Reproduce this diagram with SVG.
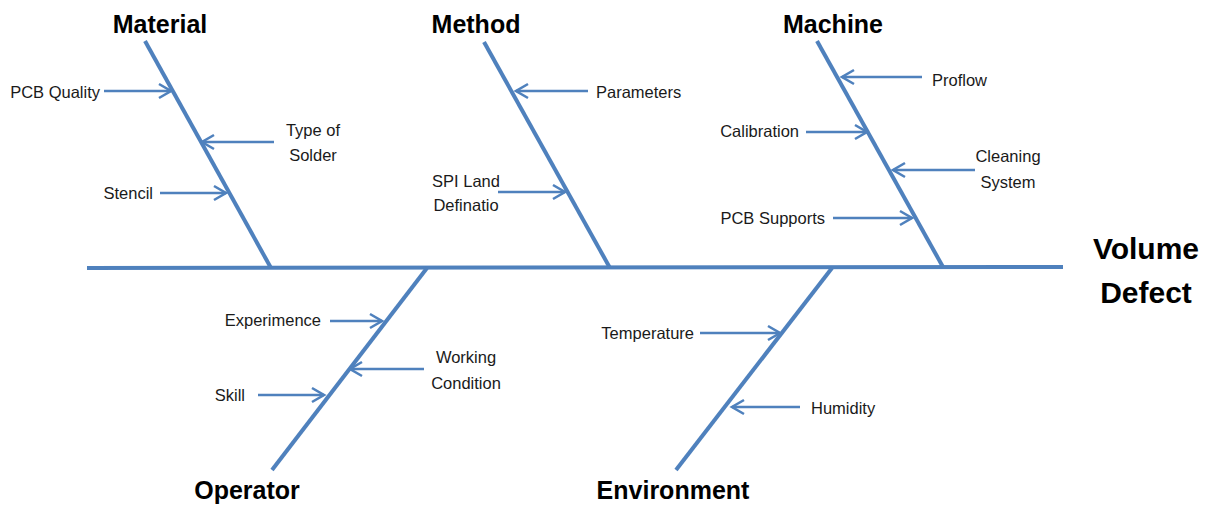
<svg xmlns="http://www.w3.org/2000/svg" width="1216" height="507" viewBox="0 0 1216 507">
<style>
.bone{stroke:#4F81BD;stroke-width:4;fill:none;stroke-linecap:butt}
.arr{stroke:#4F81BD;stroke-width:2.6;fill:none;marker-end:url(#ah)}
.lbl{font-family:"Liberation Sans",Arial,sans-serif;font-size:16.5px;fill:#1a1a1a;dominant-baseline:central}
.ttl{font-family:"Liberation Sans",Arial,sans-serif;font-size:25px;font-weight:bold;fill:#000;text-anchor:middle;dominant-baseline:central}
.big{font-family:"Liberation Sans",Arial,sans-serif;font-size:30px;font-weight:bold;fill:#000;text-anchor:middle;dominant-baseline:central}
</style>
<defs>
<marker id="ah" markerUnits="userSpaceOnUse" markerWidth="16" markerHeight="18" refX="13" refY="8" orient="auto" viewBox="0 0 16 16">
<path d="M1,1 L13,8 L1,15" fill="none" stroke="#4F81BD" stroke-width="2.6"/>
</marker>
</defs>
<g id="connectors">
<line class="bone" x1="87" y1="268" x2="1063" y2="267"/>
<line class="bone" x1="145" y1="41" x2="271" y2="268"/>
<line class="bone" x1="484" y1="42" x2="610" y2="268"/>
<line class="bone" x1="817" y1="41" x2="943" y2="267"/>
<line class="bone" x1="427" y1="268" x2="272" y2="470"/>
<line class="bone" x1="832" y1="268" x2="676" y2="470"/>
<line class="arr" x1="104" y1="91" x2="171" y2="91"/>
<line class="arr" x1="274" y1="142" x2="202" y2="142"/>
<line class="arr" x1="160" y1="193" x2="226" y2="193"/>
<line class="arr" x1="588" y1="91" x2="516" y2="91"/>
<line class="arr" x1="498" y1="192" x2="565" y2="192"/>
<line class="arr" x1="922" y1="77" x2="842" y2="77"/>
<line class="arr" x1="806" y1="132" x2="867" y2="132"/>
<line class="arr" x1="975" y1="170" x2="893" y2="170"/>
<line class="arr" x1="833" y1="218" x2="912" y2="218"/>
<line class="arr" x1="330" y1="321" x2="382" y2="321"/>
<line class="arr" x1="424" y1="369" x2="350" y2="369"/>
<line class="arr" x1="258" y1="395" x2="324" y2="395"/>
<line class="arr" x1="700" y1="333" x2="780" y2="333"/>
<line class="arr" x1="800" y1="407" x2="732" y2="407"/>
</g>
<g id="material">
<text class="ttl" x="160" y="24">Material</text>
<text class="lbl" x="100" y="92" text-anchor="end">PCB Quality</text>
<text class="lbl" x="313" y="130" text-anchor="middle">Type of</text>
<text class="lbl" x="313" y="155" text-anchor="middle">Solder</text>
<text class="lbl" x="153" y="193" text-anchor="end">Stencil</text>
</g>
<g id="method">
<text class="ttl" x="476" y="24">Method</text>
<text class="lbl" x="596" y="92">Parameters</text>
<text class="lbl" x="466" y="181" text-anchor="middle">SPI Land</text>
<text class="lbl" x="466" y="205" text-anchor="middle">Definatio</text>
</g>
<g id="machine">
<text class="ttl" x="833" y="24">Machine</text>
<text class="lbl" x="932" y="80">Proflow</text>
<text class="lbl" x="799" y="131" text-anchor="end">Calibration</text>
<text class="lbl" x="1008" y="156" text-anchor="middle">Cleaning</text>
<text class="lbl" x="1008" y="182" text-anchor="middle">System</text>
<text class="lbl" x="825" y="218" text-anchor="end">PCB Supports</text>
</g>
<g id="effect">
<text class="big" x="1146" y="248">Volume</text>
<text class="big" x="1146" y="292">Defect</text>
</g>
<g id="operator">
<text class="ttl" x="247" y="490">Operator</text>
<text class="lbl" x="321" y="320" text-anchor="end">Experimence</text>
<text class="lbl" x="466" y="357" text-anchor="middle">Working</text>
<text class="lbl" x="466" y="383" text-anchor="middle">Condition</text>
<text class="lbl" x="245" y="395" text-anchor="end">Skill</text>
</g>
<g id="environment">
<text class="ttl" x="673" y="490">Environment</text>
<text class="lbl" x="694" y="333" text-anchor="end">Temperature</text>
<text class="lbl" x="811" y="408">Humidity</text>
</g>
</svg>
